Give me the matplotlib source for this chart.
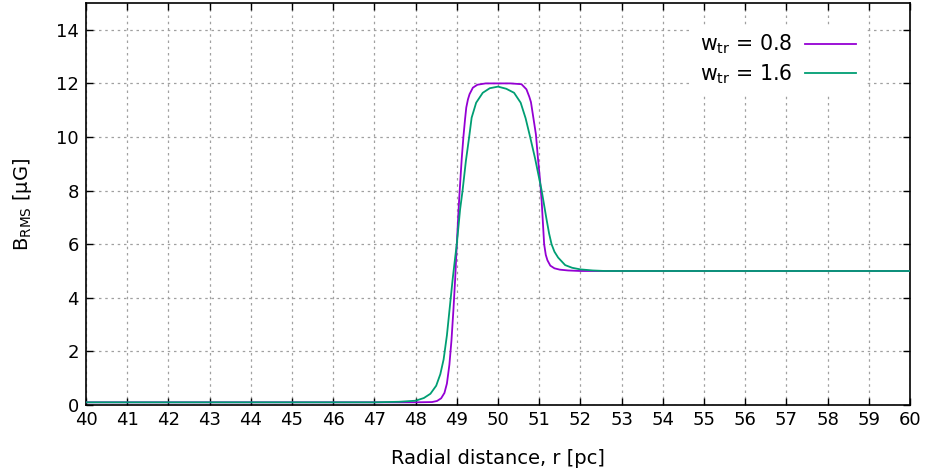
import matplotlib
matplotlib.use("Agg")
import matplotlib.pyplot as plt
from matplotlib.ticker import MultipleLocator

# values
r_08 = [40.0, 48.0, 48.4, 48.52, 48.62, 48.7, 48.76, 48.82, 48.87, 48.92, 48.96,
        49.0, 49.04, 49.07, 49.12, 49.16, 49.2, 49.23, 49.27, 49.31, 49.39,
        49.5, 49.7, 50.3, 50.57, 50.69, 50.76, 50.8, 50.85, 50.92, 50.97,
        51.02, 51.06, 51.12, 51.16, 51.2, 51.27, 51.37, 51.5, 51.7, 52.0, 60.0]
b_08 = [0.1, 0.1, 0.11, 0.15, 0.25, 0.45, 0.8, 1.5, 2.4, 3.6, 4.7,
        6.0, 7.2, 8.0, 9.2, 10.0, 10.66, 11.1, 11.4, 11.6, 11.84,
        11.95, 12.0, 12.0, 11.97, 11.78, 11.5, 11.3, 10.8, 10.1, 9.2,
        8.4, 7.6, 6.0, 5.6, 5.4, 5.2, 5.1, 5.05, 5.02, 5.0, 5.0]

r_16 = [40.0, 47.0, 47.6, 48.0, 48.2, 48.36, 48.5, 48.6, 48.68, 48.76, 48.84,
        48.9, 48.96, 49.0, 49.08, 49.14, 49.22, 49.3, 49.36, 49.47, 49.63,
        49.8, 50.0, 50.2, 50.39, 50.55, 50.67, 50.78, 50.9, 50.98, 51.06,
        51.17, 51.24, 51.3, 51.37, 51.46, 51.63, 51.8, 52.0, 52.3, 52.6, 60.0]
b_16 = [0.1, 0.1, 0.12, 0.16, 0.26, 0.42, 0.72, 1.15, 1.7, 2.6, 3.8,
        4.7, 5.5, 6.0, 7.3, 8.0, 9.1, 10.0, 10.72, 11.28, 11.65,
        11.82, 11.88, 11.8, 11.65, 11.28, 10.7, 10.0, 9.2, 8.6, 8.0,
        7.0, 6.4, 6.0, 5.72, 5.5, 5.22, 5.12, 5.06, 5.02, 5.0, 5.0]

labels = [r"w$_{\mathrm{tr}}$ = 0.8", r"w$_{\mathrm{tr}}$ = 1.6"]
colors = ["#9400d3", "#009e73"]

plt.rcParams["font.family"] = ["DejaVu Sans"]
plt.rcParams["font.size"] = 13
plt.rcParams["mathtext.fontset"] = "dejavusans"

fig = plt.figure(figsize=(9.3, 4.71), dpi=100)
ax = fig.add_axes([86 / 930, 1 - 405 / 471, (910 - 86) / 930, (405 - 3) / 471])

ax.plot(r_08, b_08, color=colors[0], lw=1.3, label=labels[0], zorder=3)
ax.plot(r_16, b_16, color=colors[1], lw=1.3, label=labels[1], zorder=3)

ax.set_xlim(40, 60)
ax.set_ylim(0, 15)
ax.xaxis.set_major_locator(MultipleLocator(1))
ax.yaxis.set_major_locator(MultipleLocator(2))
ax.tick_params(direction="in", top=True, right=True, length=5, width=1,
               labelsize=13)
ax.tick_params(axis="x", pad=4)
ax.tick_params(axis="y", pad=5)
ax.grid(True, color="#a0a0a0", linestyle=(0, (2, 3)), lw=0.9)
ax.set_axisbelow(True)
for s in ax.spines.values():
    s.set_linewidth(1.2)

ax.set_xlabel("Radial distance, r [pc]", fontsize=14, labelpad=15)
ax.set_ylabel(r"B$_{\mathrm{RMS}}$ [μG]", fontsize=14, labelpad=16)

leg = ax.legend(loc="upper right", bbox_to_anchor=(0.957, 0.972), markerfirst=False,
                frameon=True, fancybox=False, framealpha=1, edgecolor="none",
                facecolor="white", fontsize=14.8, handlelength=2.5,
                handletextpad=0.6, labelspacing=0.3, borderpad=0.4)

fig.savefig("out.png", dpi=100)
